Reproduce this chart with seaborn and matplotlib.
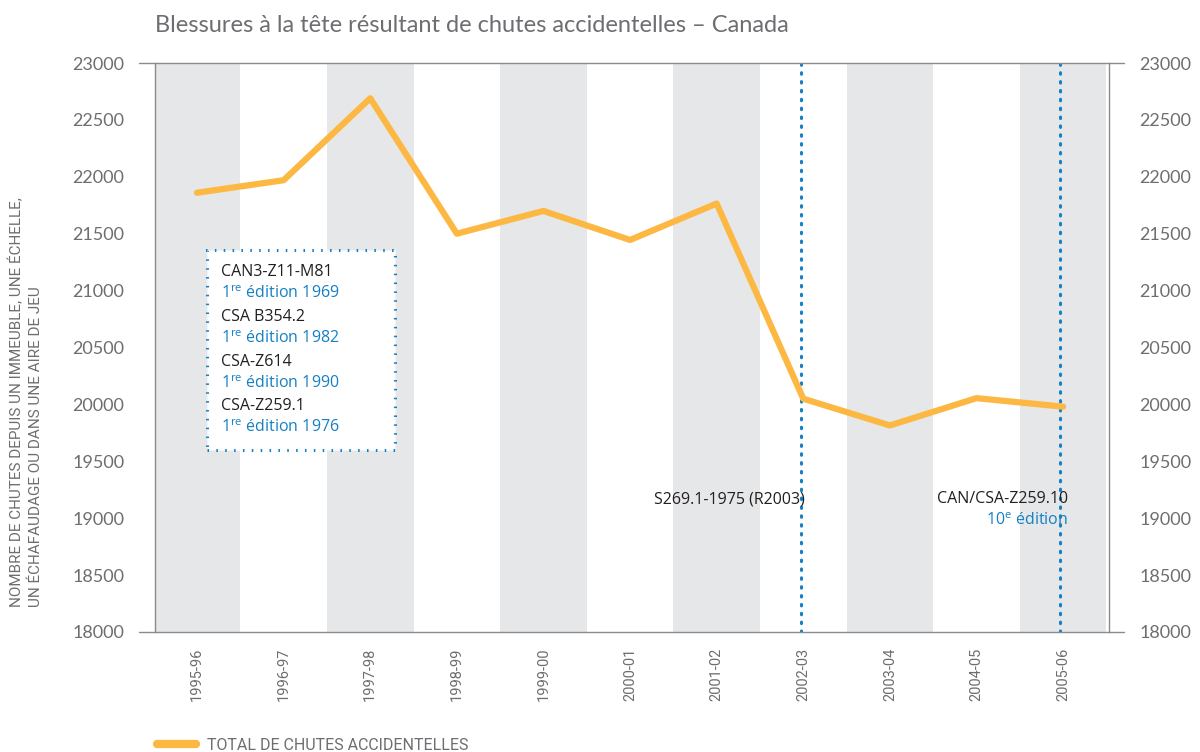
import pandas as pd
import matplotlib.pyplot as plt
import seaborn as sns
from matplotlib.lines import Line2D
from matplotlib.patches import Rectangle

# data
years = ['1995-96', '1996-97', '1997-98', '1998-99', '1999-00', '2000-01',
         '2001-02', '2002-03', '2003-04', '2004-05', '2005-06']
total_falls = [21860, 21970, 22690, 21500, 21700, 21445, 21765, 20050, 19815, 20055, 19980]

# standards shown in the dotted box: (name, edition line)
box_standards = ['CAN3-Z11-M81', 'CSA B354.2', 'CSA-Z614', 'CSA-Z259.1']
box_editions = ['1969', '1982', '1990', '1976']

# standards marked by vertical lines
marker_years = ['2002-03', '2005-06']
marker_names = ['S269.1-1975 (R2003)', 'CAN/CSA-Z259.10']

ORANGE = '#FDB844'
BLUE = '#1580C4'
GREY_TXT = '#6D6E71'
BAND = '#E6E7E8'
ANN_FONT = ['Open Sans', 'DejaVu Sans']
COND_FONT = ['Roboto', 'DejaVu Sans']

sns.set_style('white')
plt.rcParams['font.family'] = ['Lato', 'DejaVu Sans']
plt.rcParams['mathtext.fontset'] = 'custom'
plt.rcParams['mathtext.rm'] = 'Open Sans'

df = pd.DataFrame({'year': years, 'total': total_falls})

fig = plt.figure(figsize=(12, 7.52), dpi=100)
ax = fig.add_axes([155 / 1200, 1 - 632 / 752, 954 / 1200, 569 / 752])

# alternating grey bands
for i in range(0, len(years), 2):
    ax.axvspan(i - 0.5, i + 0.5, color=BAND, lw=0, zorder=0)

sns.lineplot(data=df, x='year', y='total', ax=ax, color=ORANGE, lw=4.5,
             sort=False, zorder=3, label='TOTAL DE CHUTES ACCIDENTELLES')

ax.set_xlim(-0.485, 10.53)
ax.set_ylim(18000, 23000)
ax.set_yticks(range(18000, 23001, 500))
ax.set_xlabel('')
ax.set_ylabel('')
ax.get_legend().remove()

# vertical dotted lines for standards
for yr in marker_years:
    ax.axvline(years.index(yr) - 0.03, color=BLUE, lw=2.2, ls=(0, (0.5, 2.4)),
               dash_capstyle='round', zorder=2)

# frame: side spines, top/bottom lines extending a bit past the plot
for s in ['top', 'bottom']:
    ax.spines[s].set_visible(False)
for s in ['left', 'right']:
    ax.spines[s].set_color('#8A8B8D')
    ax.spines[s].set_linewidth(1)
for yy in [0, 1]:
    ax.plot([-0.017, 1.016], [yy, yy], transform=ax.transAxes, color='#8A8B8D',
            lw=1, clip_on=False, zorder=5)

ax.tick_params(axis='y', length=0, labelsize=13, labelcolor=GREY_TXT, pad=22,
               left=True, right=True, labelleft=True, labelright=True)
ax.tick_params(axis='x', length=0, labelsize=10.5, labelcolor=GREY_TXT, pad=11)
for lab in ax.get_xticklabels():
    lab.set_rotation(90)
    lab.set_family(COND_FONT)

# dotted box with the older standards
box = Rectangle((0.0545, 0.320), 0.197, 0.351, transform=ax.transAxes,
                fill=True, facecolor='white', edgecolor=BLUE, lw=2.2,
                ls=(0, (0.5, 2.4)), zorder=4)
ax.add_patch(box)
ty = 0.646 - 0.014
for name, ed in zip(box_standards, box_editions):
    ax.text(0.069, ty, name, transform=ax.transAxes, fontsize=11.5,
            family=ANN_FONT, color='#231F20', va='center', zorder=6)
    ax.text(0.069, ty - 0.038, '1$^{\\mathrm{re}}$ édition ' + ed, transform=ax.transAxes,
            fontsize=11.5, family=ANN_FONT, color=BLUE, va='center', zorder=6)
    ty -= 0.0785

# labels next to the vertical lines
ax.text(years.index(marker_years[0]) + 0.02, 19165, marker_names[0], ha='right',
        va='center', fontsize=11.5, family=ANN_FONT, color='#231F20', zorder=6)
ax.text(years.index(marker_years[1]) + 0.06, 19165, marker_names[1], ha='right',
        va='center', fontsize=11.5, family=ANN_FONT, color='#231F20', zorder=6)
ax.text(years.index(marker_years[1]) + 0.06, 18980, '10$^{\\mathrm{e}}$ édition',
        ha='right', va='center', fontsize=11.5, family=ANN_FONT, color=BLUE, zorder=6)

# title
fig.text(155 / 1200, 1 - 25 / 752, 'Blessures à la tête résultant de chutes accidentelles – Canada',
         fontsize=17, color=GREY_TXT, va='center', ha='left')

# y axis label (two lines, rotated)
fig.text(26 / 1200, 1 - 607 / 752,
         'NOMBRE DE CHUTES DEPUIS UN IMMEUBLE, UNE ÉCHELLE,\nUN ÉCHAFAUDAGE OU DANS UNE AIRE DE JEU',
         rotation=90, ha='center', va='bottom', multialignment='left', fontsize=11,
         color=GREY_TXT, family=COND_FONT, linespacing=1.35)

# legend at the bottom
handle = Line2D([], [], color=ORANGE, lw=6)
fig.legend([handle], ['TOTAL DE CHUTES ACCIDENTELLES'], loc='center left',
           bbox_to_anchor=(143 / 1200, 1 - 745 / 752), frameon=False, handlelength=2.4,
           handletextpad=0.7, prop={'family': COND_FONT, 'size': 11.5},
           labelcolor=GREY_TXT)

fig.savefig('out.png', dpi=100)
